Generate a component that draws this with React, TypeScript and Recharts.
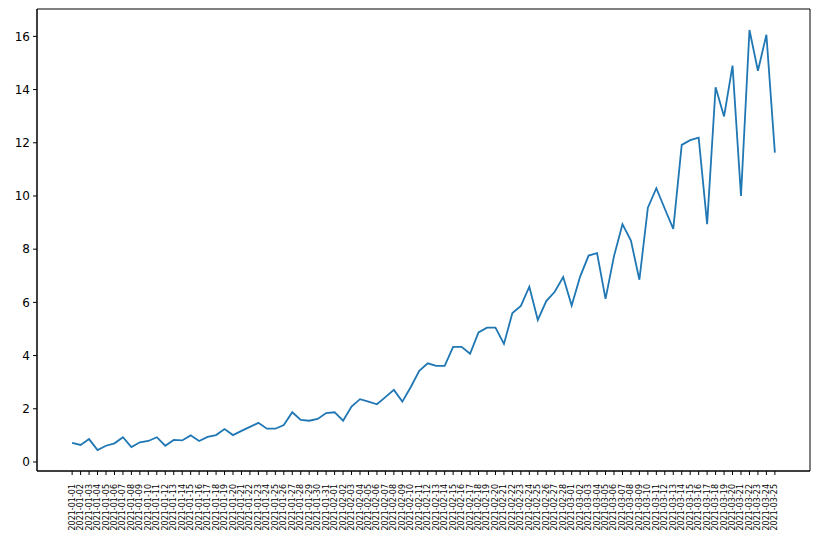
import React from "react";
import { LineChart, Line, XAxis, YAxis, ReferenceArea } from "recharts";

const dates: string[] = [];
const monthLengths = [
  ["01", 31],
  ["02", 28],
  ["03", 25],
] as const;
for (const [m, n] of monthLengths) {
  for (let d = 1; d <= n; d++) {
    dates.push(`2021-${m}-${String(d).padStart(2, "0")}`);
  }
}

const values = [
  0.72, 0.64, 0.86, 0.45, 0.61, 0.7, 0.93, 0.56, 0.74, 0.79,
  0.93, 0.61, 0.83, 0.81, 1.0, 0.79, 0.94, 1.01, 1.24, 1.01,
  1.17, 1.32, 1.47, 1.25, 1.25, 1.39, 1.87, 1.58, 1.55, 1.62,
  1.84, 1.87, 1.55, 2.08, 2.36, 2.27, 2.17, 2.44, 2.71, 2.27,
  2.82, 3.43, 3.71, 3.61, 3.61, 4.33, 4.33, 4.07, 4.87, 5.05,
  5.05, 4.44, 5.6, 5.87, 6.59, 5.34, 6.05, 6.4, 6.95, 5.88,
  6.97, 7.76, 7.85, 6.13, 7.74, 8.94, 8.32, 6.85, 9.56, 10.29,
  9.52, 8.76, 11.92, 12.1, 12.19, 8.94, 14.09, 12.99, 14.9, 10.0,
  16.24, 14.71, 16.06, 11.63,
];

const yTicks = [0, 2, 4, 6, 8, 10, 12, 14, 16];

const data = values.map((v, i) => ({ idx: i, date: dates[i], value: v }));
const xTicks = data.map((d) => d.idx);

const n = values.length;
const xPad = (n - 1) * 0.05;
const yMin = Math.min(...values);
const yMax = Math.max(...values);
const yPad = (yMax - yMin) * 0.05;
const xDomain: [number, number] = [-xPad, n - 1 + xPad];
const yDomain: [number, number] = [yMin - yPad, yMax + yPad];

const FONT = "'DejaVu Sans', sans-serif";

const XTick = (props: any) => {
  const { x, y, payload } = props;
  return (
    <text
      transform={`translate(${x},${y + 7}) rotate(-90)`}
      textAnchor="end"
      dominantBaseline="central"
      fontSize={8}
      fontFamily={FONT}
      fill="#000"
    >
      {dates[payload.value]}
    </text>
  );
};

export default function App() {
  return (
    <div style={{ position: "absolute", left: 0, top: 0, background: "#fff" }}>
      <LineChart
        width={822}
        height={539}
        data={data}
        margin={{ top: 9, right: 12, bottom: 0, left: 0 }}
      >
        <XAxis
          dataKey="idx"
          type="number"
          domain={xDomain}
          ticks={xTicks}
          interval={0}
          allowDataOverflow
          height={68}
          tick={<XTick />}
          tickSize={4}
          tickLine={{ stroke: "#000" }}
          axisLine={{ stroke: "#000" }}
        />
        <YAxis
          type="number"
          domain={yDomain}
          ticks={yTicks}
          allowDataOverflow
          width={37}
          tickSize={4}
          tickMargin={3}
          tick={{ fill: "#000", fontSize: 12, fontFamily: FONT }}
          tickLine={{ stroke: "#000" }}
          axisLine={{ stroke: "#000" }}
        />
        <ReferenceArea
          x1={xDomain[0]}
          x2={xDomain[1]}
          y1={yDomain[0]}
          y2={yDomain[1]}
          fill="none"
          fillOpacity={0}
          stroke="#000"
          strokeWidth={1}
          ifOverflow="visible"
        />
        <Line
          type="linear"
          dataKey="value"
          stroke="#1f77b4"
          strokeWidth={1.8}
          dot={false}
          isAnimationActive={false}
        />
      </LineChart>
    </div>
  );
}
